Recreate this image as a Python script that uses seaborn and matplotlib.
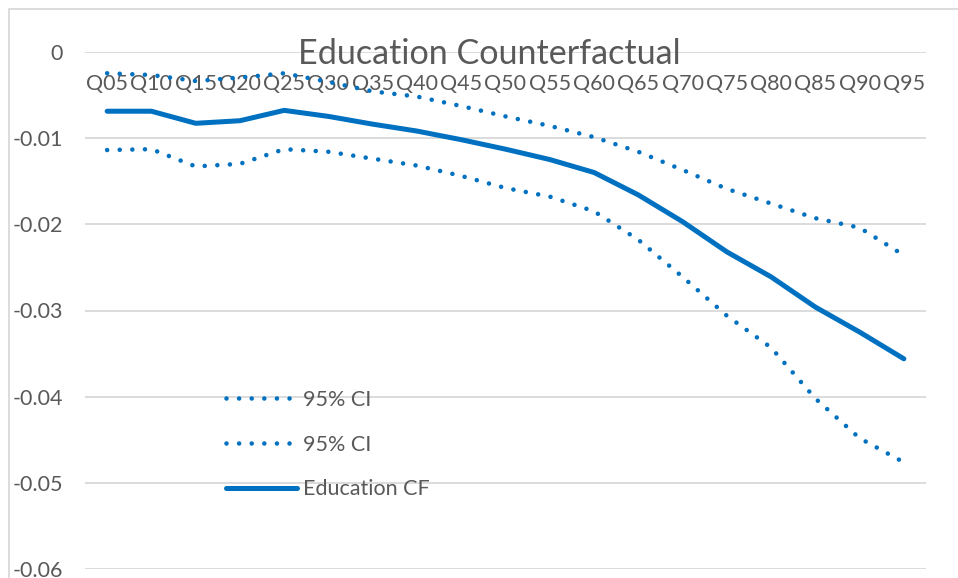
import matplotlib
matplotlib.use("Agg")
import matplotlib.pyplot as plt
from matplotlib.patches import Rectangle
import seaborn as sns
import pandas as pd

# Quantile labels and estimates
quantiles = ["Q05", "Q10", "Q15", "Q20", "Q25", "Q30", "Q35", "Q40", "Q45", "Q50",
             "Q55", "Q60", "Q65", "Q70", "Q75", "Q80", "Q85", "Q90", "Q95"]
edu_cf = [-0.0069, -0.0069, -0.0083, -0.0080, -0.0068, -0.0075, -0.0084, -0.0092,
          -0.0102, -0.0113, -0.0125, -0.0140, -0.0166, -0.0197, -0.0232, -0.0261,
          -0.0296, -0.0325, -0.0356]
ci_upper = [-0.0025, -0.0027, -0.0034, -0.0030, -0.0025, -0.0035, -0.0046, -0.0052,
            -0.0063, -0.0075, -0.0086, -0.0099, -0.0116, -0.0137, -0.0159, -0.0176,
            -0.0193, -0.0204, -0.0236]
ci_lower = [-0.0114, -0.0113, -0.0133, -0.0130, -0.0113, -0.0116, -0.0124, -0.0132,
            -0.0144, -0.0158, -0.0168, -0.0185, -0.0218, -0.0261, -0.0306, -0.0343,
            -0.0402, -0.0448, -0.0476]
y_ticks = [0, -0.01, -0.02, -0.03, -0.04, -0.05, -0.06]
y_tick_labels = ["0", "-0.01", "-0.02", "-0.03", "-0.04", "-0.05", "-0.06"]

BLUE = "#0070C0"
TEXT = "#595959"
GRID = "#D9D9D9"
FS = 15.5

sns.set_style("white")
plt.rcParams["font.family"] = ["Lato", "DejaVu Sans"]

df = pd.DataFrame({
    "pos": range(len(quantiles)),
    "upper": ci_upper,
    "lower": ci_lower,
    "cf": edu_cf,
})

fig = plt.figure(figsize=(9.58, 5.78), dpi=100)
W, H = 958, 578
ax = fig.add_axes([85 / W, 1 - 569.3 / H, (926 - 85) / W, (569.3 - 51.7) / H])

dotted = dict(color=BLUE, lw=3.3, linestyle=(0, (0.001, 2.75)),
              dash_capstyle="round", solid_capstyle="round")
sns.lineplot(data=df, x="pos", y="upper", ax=ax, label="95% CI", **dotted)
sns.lineplot(data=df, x="pos", y="lower", ax=ax, label="95% CI", **dotted)
sns.lineplot(data=df, x="pos", y="cf", ax=ax, label="Education CF",
             color=BLUE, lw=3.6, solid_capstyle="round", solid_joinstyle="round")

ax.set_xlim(-0.5, len(quantiles) - 0.5)
ax.set_ylim(-0.06, 0)
ax.set_xlabel("")
ax.set_ylabel("")

ax.set_yticks(y_ticks)
ax.set_yticklabels(y_tick_labels)
ax.yaxis.grid(True, color=GRID, lw=1.3)
ax.set_axisbelow(True)

ax.set_xticks(list(range(len(quantiles))))
ax.set_xticklabels(quantiles)
ax.tick_params(axis="x", bottom=False, top=False, labelbottom=False, labeltop=True,
               pad=-34, labelsize=FS, labelcolor=TEXT)
ax.tick_params(axis="y", left=False, length=0, pad=16, labelsize=FS, labelcolor=TEXT)
for lab in ax.get_xticklabels():
    lab.set_zorder(1)

for s in ax.spines.values():
    s.set_visible(False)

leg = ax.legend(loc="upper left", bbox_to_anchor=(226 / W, 1 - 390 / H),
                bbox_transform=fig.transFigure, frameon=False, fontsize=FS,
                handlelength=3.3, handletextpad=0.28, labelspacing=1.14,
                borderpad=0, borderaxespad=0)
for t in leg.get_texts():
    t.set_color(TEXT)

fig.text(489 / W, 1 - 64 / H, "Education Counterfactual", ha="center", va="baseline",
         fontsize=24.6, color=TEXT)

# chart area border
fig.add_artist(Rectangle((8.5 / W, -0.5), 2, 0.5 + (1 - 8.5 / H), transform=fig.transFigure,
                         fill=False, edgecolor=GRID, lw=1.3))

fig.savefig("out.png", dpi=100)
